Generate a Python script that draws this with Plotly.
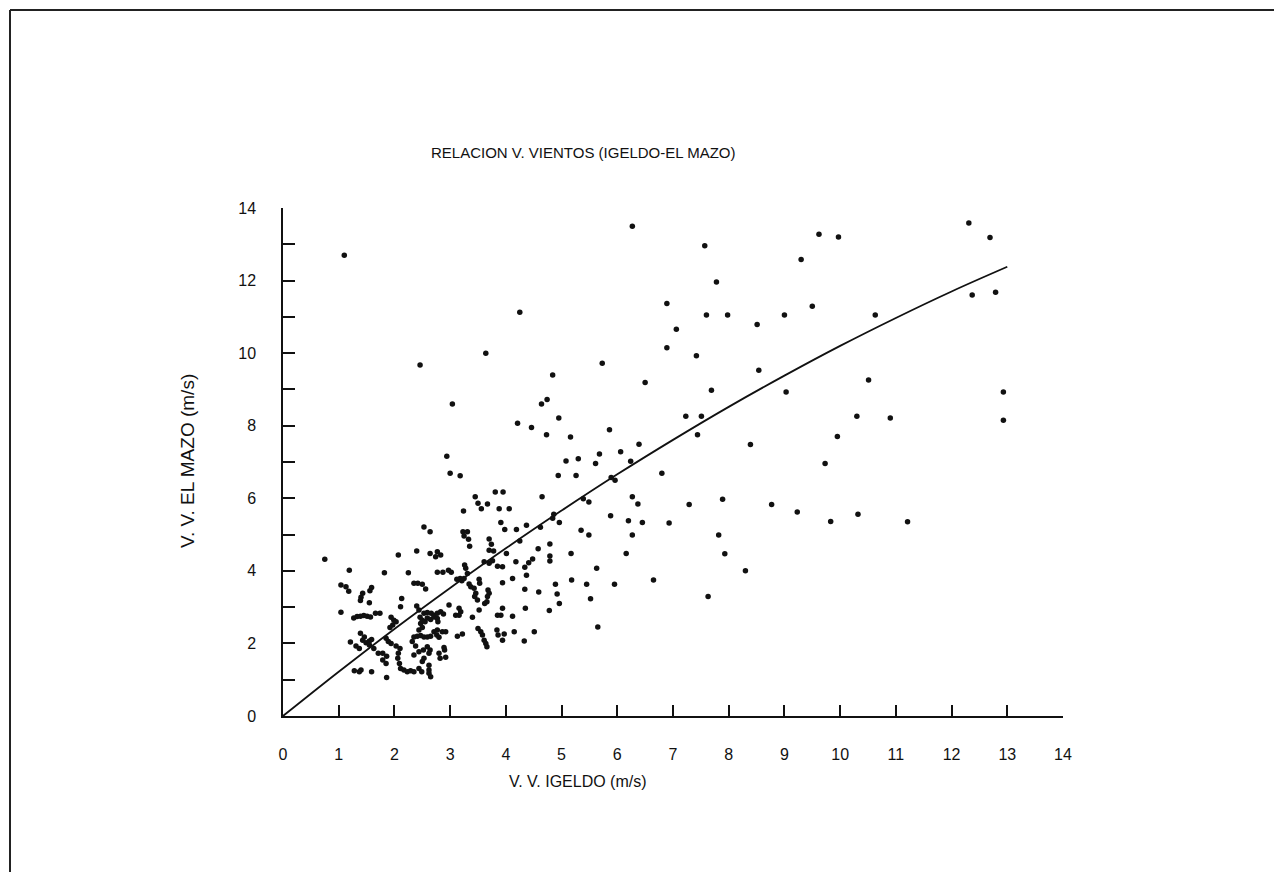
import plotly.graph_objects as go

# Scatter readings: V.V. IGELDO (x, m/s) vs V.V. EL MAZO (y, m/s)
igeldo_a = [0.75, 1.19, 1.82, 1.04, 1.13, 1.18, 1.43, 1.40, 1.39, 1.59, 1.56, 1.55, 1.04,
            1.27, 1.33, 1.39, 1.45, 1.51, 1.57, 1.66, 1.74, 1.94, 1.99, 1.97, 1.92,
            1.21, 1.31, 1.37, 1.43, 1.49, 1.55, 1.59, 1.55, 1.63, 1.39, 1.46,
            1.71, 1.79, 1.86, 1.79, 1.85, 1.94, 1.85, 1.89, 1.28, 1.37, 1.40, 1.59, 1.86, 1.10]
mazo_a = [4.32, 4.02, 3.95, 3.61, 3.56, 3.44, 3.38, 3.27, 3.18, 3.54, 3.45, 3.12, 2.86,
          2.70, 2.74, 2.75, 2.77, 2.75, 2.73, 2.83, 2.83, 2.72, 2.64, 2.51, 2.44,
          2.04, 1.93, 1.86, 2.09, 2.02, 2.07, 2.11, 1.96, 1.86, 2.28, 2.18,
          1.73, 1.73, 1.65, 1.54, 1.45, 2.00, 2.14, 2.05, 1.25, 1.22, 1.27, 1.22, 1.06, 12.70]

igeldo_b = [2.07, 2.40, 2.25, 2.35, 2.42, 2.13, 2.11, 2.40, 2.44, 2.03, 2.03, 2.10, 2.07, 2.06,
            2.09, 2.11, 2.17, 2.23, 2.29, 2.35, 2.35, 2.44, 2.44, 2.49, 2.35, 2.32, 2.38, 2.47,
            2.50, 2.44, 2.41, 2.47, 2.46, 2.64, 2.74, 2.77, 2.83, 2.77, 2.87, 2.97, 2.50, 2.56,
            2.53, 2.59, 2.66, 2.71, 2.77, 2.83, 2.88, 2.50, 2.55, 2.59, 2.65, 2.71, 2.77, 2.78,
            2.98, 2.77, 2.71, 2.76, 2.80, 2.86, 2.92, 2.53, 2.59, 2.65, 2.89, 2.90, 2.92, 2.80,
            2.82, 2.53, 2.50, 2.64, 2.62, 2.62, 2.65, 2.52, 2.59, 2.62, 2.62,
            2.46, 2.94, 2.53, 2.64]
mazo_b = [4.44, 4.55, 3.95, 3.66, 3.66, 3.24, 3.01, 3.03, 2.92, 2.60, 1.93, 1.86, 1.73, 1.59,
          1.45, 1.31, 1.27, 1.22, 1.25, 1.22, 1.68, 1.77, 1.31, 1.22, 2.18, 2.05, 1.93, 2.55,
          2.44, 2.37, 2.20, 2.22, 2.72, 4.48, 4.39, 4.53, 4.44, 3.96, 3.96, 4.02, 3.63, 3.50,
          2.83, 2.85, 2.83, 2.78, 2.83, 2.87, 2.81, 2.64, 2.60, 2.70, 2.66, 2.73, 2.69, 2.60,
          3.06, 2.37, 2.32, 2.23, 2.17, 2.32, 2.32, 2.18, 2.18, 2.20, 1.89, 1.82, 1.62, 1.73,
          1.59, 1.59, 1.50, 1.82, 1.73, 1.18, 1.08, 1.82, 1.91, 1.40, 1.27,
          9.67, 7.16, 5.21, 5.08]

igeldo_c = [3.04, 3.64, 4.25, 3.00, 3.18, 4.21, 4.46, 3.81, 3.95, 3.45, 3.50, 3.56, 3.67, 3.88,
            4.06, 3.24, 3.91, 3.98, 4.19, 4.37, 3.23, 3.31, 3.25, 3.33, 3.35, 3.70, 3.74, 4.25,
            3.70, 3.78, 4.01, 4.58, 4.48,
            3.02, 3.26, 3.28, 3.31, 3.12, 3.18, 3.21, 3.25, 3.34, 3.37, 3.43, 3.46, 3.44, 3.49,
            3.52, 3.53, 3.61, 3.70, 3.76, 3.85, 3.94, 3.68, 3.70, 3.67, 3.66, 3.62, 3.52, 3.94,
            4.12, 4.34, 4.37, 4.34, 4.18, 4.41, 4.59, 3.16, 3.19, 3.10, 3.16, 3.40, 3.85, 3.91,
            3.94, 4.12, 4.35, 3.13, 3.22, 3.50, 3.55, 3.58, 3.61, 3.64, 3.66, 3.84, 3.94, 3.86,
            3.97, 4.15, 4.33, 4.51]
mazo_c = [8.60, 10.00, 11.13, 6.69, 6.62, 8.07, 7.95, 6.17, 6.17, 6.04, 5.86, 5.71, 5.84, 5.71,
          5.71, 5.65, 5.33, 5.14, 5.14, 5.26, 5.08, 5.08, 4.96, 4.87, 4.68, 4.88, 4.73, 4.82,
          4.57, 4.55, 4.48, 4.61, 4.33,
          3.96, 4.16, 4.07, 3.93, 3.77, 3.79, 3.73, 3.79, 3.64, 3.56, 3.52, 3.38, 3.29, 3.20,
          3.77, 3.66, 4.25, 4.21, 4.28, 4.13, 4.11, 3.47, 3.38, 3.29, 3.15, 3.10, 2.92, 3.67,
          3.79, 3.49, 3.88, 4.10, 4.25, 4.22, 3.42, 2.97, 2.87, 2.78, 2.78, 2.72, 2.78, 2.78,
          2.97, 2.75, 2.97, 2.20, 2.26, 2.41, 2.32, 2.23, 2.09, 2.00, 1.91, 2.37, 2.09, 2.23,
          2.26, 2.32, 2.07, 2.32]

igeldo_d = [5.73, 4.84, 4.74, 4.64, 4.95, 4.73, 5.16, 5.86, 5.08, 5.30, 5.68, 5.61, 4.94, 5.26,
            5.96, 5.89, 4.65, 5.39, 5.49, 4.86, 4.84, 4.62, 4.96, 5.88, 5.35, 5.49, 4.79, 5.17,
            4.79, 4.79, 5.63, 4.89, 5.18, 5.45, 5.95, 4.92, 4.96, 5.52, 4.78, 5.65]
mazo_d = [9.72, 9.40, 8.72, 8.60, 8.21, 7.75, 7.69, 7.89, 7.03, 7.09, 7.22, 6.96, 6.63, 6.63,
          6.50, 6.57, 6.04, 5.99, 5.90, 5.56, 5.45, 5.20, 5.33, 5.52, 5.12, 4.99, 4.74, 4.48,
          4.41, 4.27, 4.07, 3.63, 3.75, 3.63, 3.63, 3.36, 3.10, 3.23, 2.91, 2.45]

igeldo_e = [6.27, 7.57, 7.78, 6.89, 7.60, 7.98, 7.06, 6.89, 7.42, 8.51, 9.00, 9.30, 9.62, 9.97,
            9.50, 8.54, 6.50, 7.69, 10.51, 9.03, 7.23, 7.51, 10.30, 7.44, 9.95, 6.39, 6.06, 6.24,
            8.39, 9.73, 6.80, 6.27, 6.37, 7.29, 7.89, 8.77, 9.23, 10.32, 9.83, 6.20, 6.45, 6.93,
            6.27, 7.82, 6.16, 7.93, 8.30, 6.65, 7.63,
            12.31, 12.69, 10.63, 12.37, 12.79, 12.93, 12.93, 10.90, 11.21]
mazo_e = [13.50, 12.96, 11.96, 11.37, 11.05, 11.05, 10.66, 10.15, 9.93, 10.79, 11.05, 12.58,
          13.28, 13.20, 11.29, 9.53, 9.19, 8.98, 9.26, 8.93, 8.26, 8.26, 8.26, 7.75, 7.70, 7.49,
          7.28, 7.02, 7.48, 6.96, 6.69, 6.04, 5.84, 5.83, 5.97, 5.83, 5.62, 5.56, 5.36, 5.38,
          5.33, 5.32, 4.99, 4.99, 4.48, 4.47, 4.00, 3.75, 3.29,
          13.59, 13.19, 11.05, 11.60, 11.68, 8.93, 8.15, 8.21, 5.35]

# Fitted relation curve
curve_x = [0, 1, 2, 3, 4, 5, 6, 7, 8, 9, 10, 11, 12, 13]
curve_y = [0, 1.22, 2.40, 3.53, 4.62, 5.66, 6.66, 7.61, 8.52, 9.38, 10.20, 10.97, 11.70, 12.38]

x_all = igeldo_a + igeldo_b + igeldo_c + igeldo_d + igeldo_e
y_all = mazo_a + mazo_b + mazo_c + mazo_d + mazo_e

FONT = "Liberation Sans, Arial, Helvetica, sans-serif"
INK = "#111111"

fig = go.Figure()
fig.add_trace(go.Scatter(x=x_all, y=y_all, mode="markers",
                         marker=dict(size=5.5, color=INK, line=dict(width=0)),
                         hoverinfo="x+y", showlegend=False))
fig.add_trace(go.Scatter(x=curve_x, y=curve_y, mode="lines",
                         line=dict(color=INK, width=1.8, shape="spline"),
                         hoverinfo="skip", showlegend=False))

OFF = 8  # page body margin
W, H = 1282 - OFF, 872 - OFF
# plot area in page pixels
PL, PR, PT, PB = 283, 1063, 208, 716
L, R, T, B = PL - OFF, PR - OFF, PT - OFF, PB - OFF

def px(xp):  # page pixel -> paper x
    return (xp - PL) / (PR - PL)

def py(yp):  # page pixel -> paper y
    return (PB - yp) / (PB - PT)

fig.update_layout(
    width=W, height=H,
    margin=dict(l=L, r=W - R, t=T, b=H - B, pad=0),
    paper_bgcolor="white", plot_bgcolor="white",
    font=dict(family=FONT, size=16, color=INK),
    xaxis=dict(range=[0, 14], tickmode="linear", tick0=0, dtick=1,
               showgrid=False, zeroline=False, showline=True, linecolor=INK, linewidth=1.5,
               ticks="inside", ticklen=11, tickwidth=1.5, tickcolor=INK,
               ticklabelstandoff=23, tickfont=dict(size=16, family=FONT, color=INK),
               fixedrange=True),
    yaxis=dict(range=[0, 14], tickmode="linear", tick0=0, dtick=2,
               showgrid=False, zeroline=False, showline=True, linecolor=INK, linewidth=1.5,
               ticks="inside", ticklen=12, tickwidth=1.5, tickcolor=INK,
               minor=dict(dtick=1, ticks="inside", ticklen=12, tickwidth=1.5, tickcolor=INK,
                          showgrid=False),
               ticklabelstandoff=22, tickfont=dict(size=16, family=FONT, color=INK),
               fixedrange=True),
    annotations=[
        dict(text="RELACION V. VIENTOS (IGELDO-EL MAZO)", xref="paper", yref="paper",
             x=px(583), y=py(152), showarrow=False, xanchor="center", yanchor="middle",
             font=dict(size=15, family=FONT, color=INK)),
        dict(text="V. V. IGELDO (m/s)", xref="paper", yref="paper",
             x=px(578), y=py(781), showarrow=False, xanchor="center", yanchor="middle",
             font=dict(size=16, family=FONT, color=INK)),
        dict(text="V. V. EL MAZO (m/s)", xref="paper", yref="paper",
             x=px(187), y=py(461), showarrow=False, xanchor="center", yanchor="middle",
             textangle=-90, font=dict(size=19, family=FONT, color=INK)),
    ],
    shapes=[
        dict(type="line", xref="paper", yref="paper", x0=px(10), x1=px(1282),
             y0=py(10), y1=py(10), line=dict(color="#222222", width=2)),
        dict(type="line", xref="paper", yref="paper", x0=px(10), x1=px(10),
             y0=py(10), y1=py(872), line=dict(color="#222222", width=2)),
    ],
)

fig.write_html("out.html")
